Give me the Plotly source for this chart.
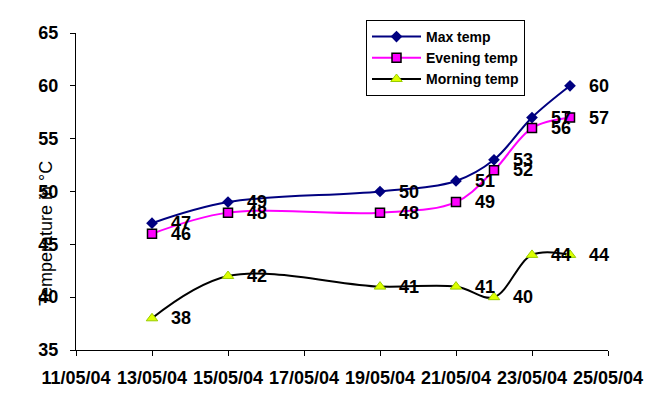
import plotly.graph_objects as go

dates = ["2004-05-13", "2004-05-15", "2004-05-19", "2004-05-21", "2004-05-22", "2004-05-23", "2004-05-24"]
max_temp = [47, 49, 50, 51, 53, 57, 60]
evening_temp = [46, 48, 48, 49, 52, 56, 57]
morning_temp = [38, 42, 41, 41, 40, 44, 44]
x_ticks = ["2004-05-11", "2004-05-13", "2004-05-15", "2004-05-17", "2004-05-19",
           "2004-05-21", "2004-05-23", "2004-05-25"]
x_tick_labels = ["11/05/04", "13/05/04", "15/05/04", "17/05/04", "19/05/04",
                 "21/05/04", "23/05/04", "25/05/04"]

FONT = "Liberation Sans, Arial, sans-serif"

fig = go.Figure()
fig.add_trace(go.Scatter(
    x=dates, y=max_temp, name="Max temp", mode="lines+markers",
    line=dict(color="#000080", width=2, shape="spline", smoothing=1),
    marker=dict(symbol="diamond", size=9, color="#000080"),
))
fig.add_trace(go.Scatter(
    x=dates, y=evening_temp, name="Evening temp", mode="lines+markers",
    line=dict(color="#FF00FF", width=2, shape="spline", smoothing=1),
    marker=dict(symbol="square", size=9, color="#FF00FF", line=dict(color="black", width=1.5)),
))
fig.add_trace(go.Scatter(
    x=dates, y=morning_temp, name="Morning temp", mode="lines+markers",
    line=dict(color="black", width=2, shape="spline", smoothing=1),
    marker=dict(symbol="triangle-up", size=10, color="#DDFF00", line=dict(color="#99CC00", width=1)),
))

for series in (max_temp, evening_temp, morning_temp):
    for d, v in zip(dates, series):
        fig.add_annotation(x=d, y=v, text=str(v), showarrow=False,
                           xanchor="left", yanchor="middle", xshift=17,
                           font=dict(family=FONT, size=18, color="black", weight="bold"))

fig.add_annotation(x=(46 - 76) / 532, y=(350 - 234) / 317, xref="paper", yref="paper",
                   text="Temperature in °C", textangle=-90, showarrow=False,
                   xanchor="center", yanchor="middle",
                   font=dict(family=FONT, size=18, color="black"))

fig.update_layout(
    width=668, height=397,
    margin=dict(l=76, r=60, t=33, b=47, autoexpand=False),
    paper_bgcolor="white", plot_bgcolor="white",
    font=dict(family=FONT, color="black"),
    showlegend=True,
    legend=dict(x=366 / 668, y=1 - 20 / 397, xref="container", yref="container",
                xanchor="left", yanchor="top",
                bordercolor="black", borderwidth=1, bgcolor="white",
                font=dict(family=FONT, size=14, color="black", weight="bold"),
                tracegroupgap=0, itemwidth=49),
    xaxis=dict(type="date", range=["2004-05-11", "2004-05-25"],
               tickmode="array", tickvals=x_ticks, ticktext=x_tick_labels,
               showline=True, linecolor="black", linewidth=1,
               ticks="outside", ticklen=5, tickcolor="black",
               showgrid=False, zeroline=False, ticklabelstandoff=6,
               automargin=False,
               tickfont=dict(family=FONT, size=18, color="black", weight="bold")),
    yaxis=dict(range=[35, 65], dtick=5, tick0=35,
               showline=True, linecolor="black", linewidth=1,
               ticks="outside", ticklen=5, tickcolor="black",
               showgrid=False, zeroline=False, ticklabelstandoff=8,
               automargin=False,
               tickfont=dict(family=FONT, size=18, color="black", weight="bold")),
)

fig.write_html("out.html", config={"displayModeBar": False},
               post_script="document.body.style.margin='0';")
